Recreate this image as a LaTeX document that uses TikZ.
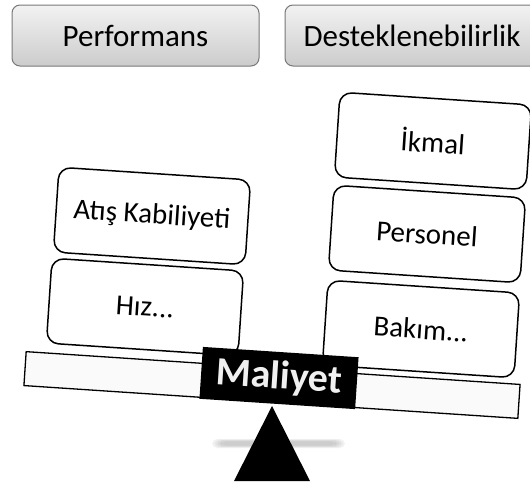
\documentclass[tikz,border=0pt]{standalone}
\usepackage{fontspec}
\setmainfont{Carlito}
\usepackage{tikz}
\usetikzlibrary{positioning,shapes,backgrounds,calc}
\definecolor{hdrtop}{RGB}{242,242,242}
\definecolor{hdrbot}{RGB}{204,204,204}
\definecolor{hdrline}{RGB}{120,120,120}
\definecolor{beamfill}{RGB}{250,250,250}
\definecolor{shadowgray}{RGB}{150,150,150}

\begin{document}
\begin{tikzpicture}[x=1pt,y=-1pt,
    header/.style={rectangle,rounded corners=8pt,draw=hdrline,line width=1pt,
      top color=hdrtop,bottom color=hdrbot,minimum width=247pt,minimum height=61pt,
      font=\fontsize{31}{36}\selectfont},
    load/.style={rectangle,rounded corners=12pt,draw,line width=1.5pt,fill=white,
      minimum width=192pt,minimum height=85pt,rotate=-3.8,
      font=\fontsize{29}{34}\selectfont},
    beam/.style={rectangle,draw,line width=1.3pt,fill=beamfill,
      minimum width=495pt,minimum height=34pt,rotate=-3.8},
    cost/.style={rectangle,fill=black,text=white!94!black,minimum width=156pt,
      minimum height=52pt,rotate=-3.8,font=\fontsize{40}{44}\selectfont\bfseries}]
    \useasboundingbox (0,0) rectangle (530,483);

    % top labels
    \node[header] (perf) at (135.5,35.5) {Performans};
    \node[header,minimum width=254pt] (supp) at (412,35.5) {Desteklenebilirlik};

    % the lever
    \node[beam] (lever) at (272,385) {};
    \foreach \s in {0,1.5,3,4.5,6}
      \fill[shadowgray,opacity=0.12,rounded corners=5pt]
        ({212+\s*1.5},{439+\s*0.4}) rectangle ({345-\s*1.5},{448-\s*0.4});
    \coordinate (apex) at (272,406);
    \fill (apex) -- (234,481) -- (310,481) -- cycle;

    % left side
    \node[load] (fire) at (152,216) {Atış Kabiliyeti};
    \node[load] (speed) at (145,307) {Hız...};

    % right side
    \node[load] (supply) at (433,141) {İkmal};
    \node[load] (staff) at (427,234) {Personel};
    \node[load] (maint) at (421,329) {Bakım...};

    \node[cost] (cost) at (279,378) {Maliyet};
  \end{tikzpicture}
\end{document}
